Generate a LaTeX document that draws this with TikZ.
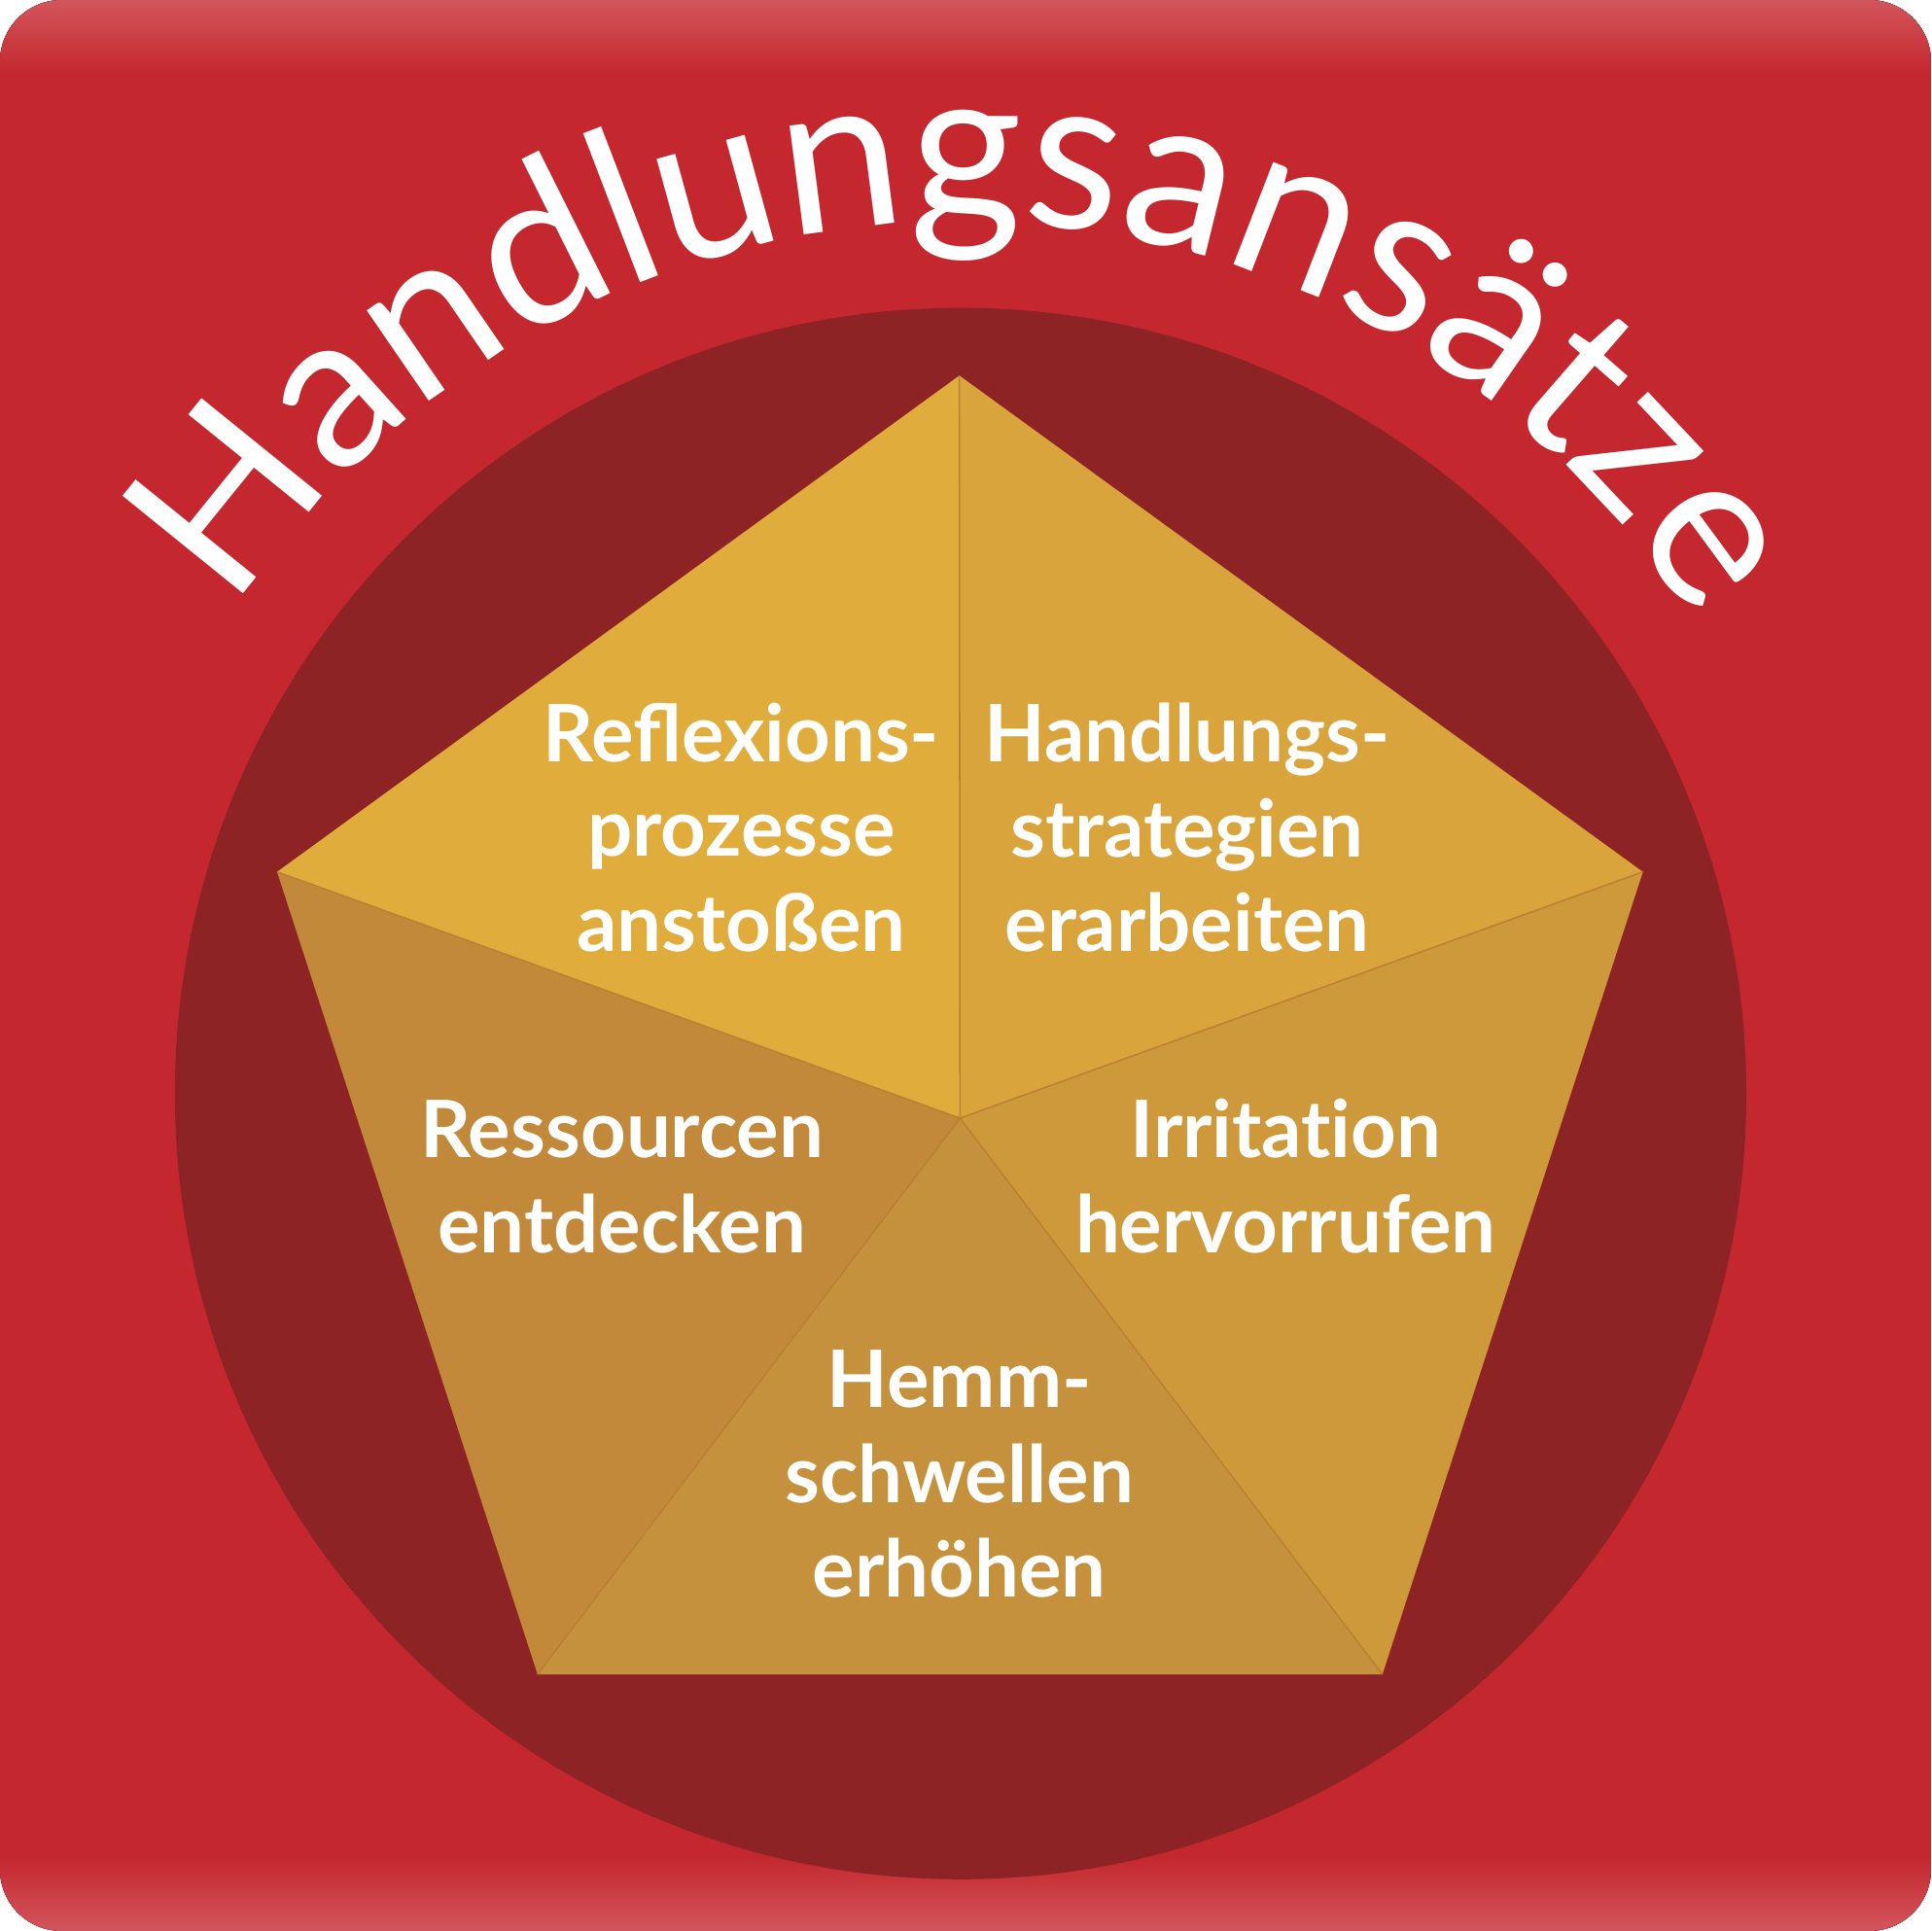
\documentclass[tikz,border=0pt]{standalone}
\usepackage{fontspec}
\setmainfont{Lato}
\newfontfamily\titlefont{Lato}[LetterSpace=-1.6]
\usetikzlibrary{decorations.text}

\definecolor{bgred}{RGB}{196,40,46}
\definecolor{bglight}{RGB}{210,86,92}
\definecolor{ringred}{RGB}{142,35,37}
\definecolor{pentTL}{RGB}{224,173,61}
\definecolor{pentTR}{RGB}{217,164,60}
\definecolor{pentR}{RGB}{206,153,58}
\definecolor{pentB}{RGB}{198,145,61}
\definecolor{pentL}{RGB}{194,137,58}
\definecolor{seam}{RGB}{188,128,50}

\begin{document}
\begin{tikzpicture}[ansatz/.style={text=white, font=\bfseries\fontsize{18.3}{21.9}\selectfont, align=center, inner sep=0pt}, seamline/.style={seam, line width=0.35pt}]
\useasboundingbox (0,0) rectangle (15.68,15.68);
% background card
\begin{scope}
  \clip[rounded corners=0.5cm] (0,0) rectangle (15.68,15.68);
  \fill[bgred] (0,0) rectangle (15.68,15.68);
  \fill[top color=bglight, bottom color=bgred] (0,15.08) rectangle (15.68,15.68);
  \fill[top color=bgred, bottom color=bglight] (0,0) rectangle (15.68,0.6);
\end{scope}
\coordinate (mid) at (7.80,6.80);
\fill[ringred] (mid) circle[radius=6.38];
% pentagon
\coordinate (top) at (7.79,12.63);
\coordinate (left) at (2.25,8.60);
\coordinate (right) at (13.34,8.60);
\coordinate (botleft) at (4.365,2.084);
\coordinate (botright) at (11.225,2.084);
\coordinate (hub) at (7.795,6.60);
\fill[pentTL] (top) -- (left) -- (hub) -- cycle;
\fill[pentTR] (top) -- (right) -- (hub) -- cycle;
\fill[pentR] (right) -- (botright) -- (hub) -- cycle;
\fill[pentB] (botright) -- (botleft) -- (hub) -- cycle;
\fill[pentL] (botleft) -- (left) -- (hub) -- cycle;
\foreach \v in {top,left,right,botleft,botright}
  \draw[seamline] (hub) -- (\v);
% labels
\node[ansatz] (reflexion) at (6.02,8.96) {Reflexions-\\prozesse\\anstoßen};
\node[ansatz] (strategie) at (9.64,8.96) {Handlungs-\\strategien\\erarbeiten};
\node[ansatz] (ressource) at (5.05,6.125) {Ressourcen\\entdecken};
\node[ansatz] (irritation) at (10.44,6.13) {Irritat\kern0pt ion\\hervorrufen};
\node[ansatz] (hemm) at (7.79,3.71) {Hemm-\\schwellen\\erhöhen};
% title on the arc
\path[decorate, decoration={text along path, text align=center, text color=white,
  text={|\titlefont\fontsize{50}{60}\selectfont|Handlungsansätze}}]
  ([shift={(159.5:7.08)}]mid) arc[start angle=159.5, end angle=19.5, radius=7.08];
\end{tikzpicture}
\end{document}
